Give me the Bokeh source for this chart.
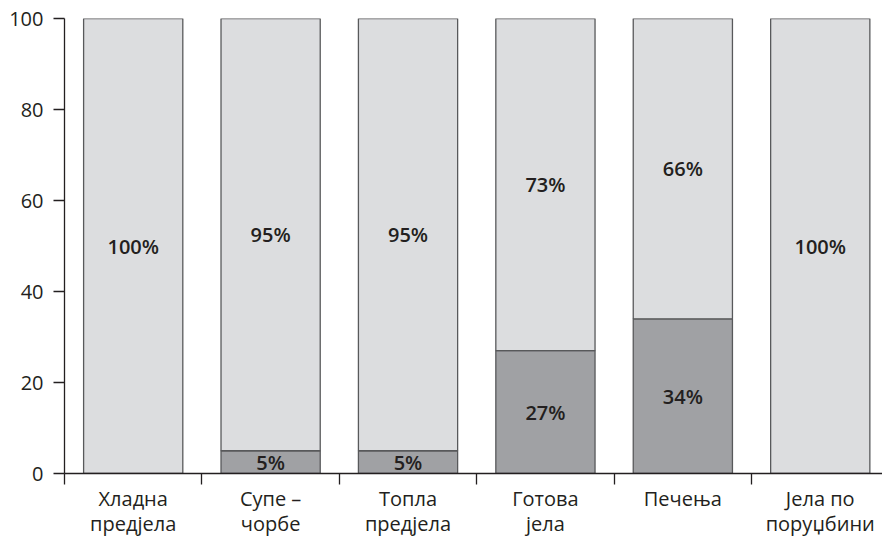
from bokeh.plotting import figure
from bokeh.models import ColumnDataSource, Range1d, FixedTicker
from bokeh.core.properties import value
from bokeh.embed import file_html
from bokeh.resources import INLINE

# Share of dishes per menu section (percent)
categories = ["Хладна\nпредјела", "Супе –\nчорбе", "Топла\nпредјела",
              "Готова\nјела", "Печења", "Јела по\nпоруџбини"]
lower_share = [0, 5, 5, 27, 34, 0]
upper_share = [100, 95, 95, 73, 66, 100]
y_ticks = [0, 20, 40, 60, 80, 100]

FONT = "Open Sans"
INK = "#231f20"
LIGHT = "#dcdddf"
DARK = "#a0a1a4"
EDGE = "#58595b"

n = len(categories)
centers = [i + 0.5 for i in range(n)]
boundaries = list(range(n + 1))

upper_top = [lo + up for lo, up in zip(lower_share, upper_share)]

src = ColumnDataSource(dict(x=centers, lo_top=lower_share, up_top=upper_top))

p = figure(width=882, height=540, output_backend="svg", toolbar_location=None,
           x_range=Range1d(0, 5.953), y_range=Range1d(0, 100),
           min_border_left=64, min_border_right=0,
           min_border_top=18, min_border_bottom=66)
p.outline_line_color = None
p.xgrid.visible = False
p.ygrid.visible = False

BAR_W = 0.722
p.vbar(x="x", width=BAR_W, bottom=0, top="lo_top", source=src,
       fill_color=DARK, line_color=EDGE, line_width=1.3)
p.vbar(x="x", width=BAR_W, bottom="lo_top", top="up_top", source=src,
       fill_color=LIGHT, line_color=EDGE, line_width=1.3)

# Percentage labels in the middle of each non-empty segment
lx, ly, lt = [], [], []
for c, lo, up in zip(centers, lower_share, upper_share):
    if lo > 0:
        lx.append(c); ly.append(lo / 2); lt.append(f"{lo}%")
    if up > 0:
        lx.append(c); ly.append(lo + up / 2); lt.append(f"{up}%")
lab = ColumnDataSource(dict(x=lx, y=ly, t=lt))
p.text(x="x", y="y", text="t", source=lab, text_align="center",
       text_baseline="middle", text_font=value("Open Sans SemiBold"),
       text_font_size="20px", text_color=INK)

# x axis: names at category centres, tick marks on the boundaries
xa = p.xaxis[0]
xa.ticker = FixedTicker(ticks=centers, minor_ticks=boundaries)
xa.major_label_overrides = {c: name for c, name in zip(centers, categories)}
xa.major_tick_out = 0
xa.major_tick_in = 0
xa.minor_tick_out = 11
xa.minor_tick_in = 0
xa.minor_tick_line_color = INK
xa.minor_tick_line_width = 1.3
xa.axis_line_color = INK
xa.axis_line_width = 1.3
xa.major_label_standoff = 0
xa.major_label_text_font = FONT
xa.major_label_text_font_size = "20px"
xa.major_label_text_line_height = 0.95
xa.major_label_text_color = INK

ya = p.yaxis[0]
ya.ticker = FixedTicker(ticks=y_ticks, minor_ticks=[])
ya.major_tick_out = 11
ya.major_tick_in = 0
ya.major_tick_line_color = INK
ya.major_tick_line_width = 1.3
ya.axis_line_color = INK
ya.axis_line_width = 1.3
ya.major_label_standoff = 10
ya.major_label_text_font = FONT
ya.major_label_text_font_size = "20px"
ya.major_label_text_color = INK

open("out.html", "w").write(file_html(p, INLINE))
